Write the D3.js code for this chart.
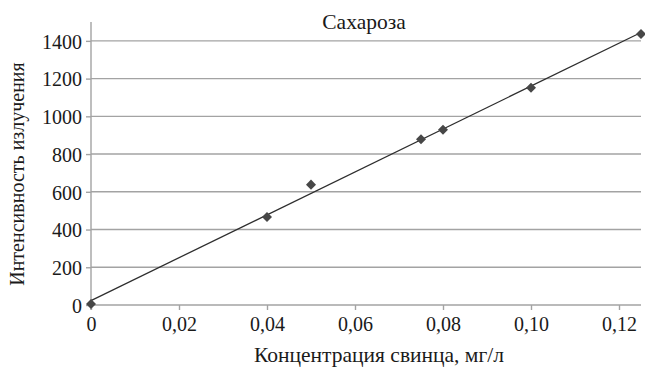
<!DOCTYPE html>
<html lang="ru">
<head>
<meta charset="UTF-8">
<title>Сахароза</title>
<script src="https://d3js.org/d3.v7.min.js"></script>
<style>
  body { margin: 0; background: #fff; }
  svg { display: block; }
</style>
</head>
<body>
<svg id="chart" width="645" height="367"></svg>
<script>
// data
const concentration = [0, 0.04, 0.05, 0.075, 0.08, 0.10, 0.125];
const intensity = [5, 467, 638, 878, 929, 1152, 1437];
const xTicks = [0, 0.02, 0.04, 0.06, 0.08, 0.10, 0.12];
const xTickLabels = ["0", "0,02", "0,04", "0,06", "0,08", "0,10", "0,12"];
const yTicks = [0, 200, 400, 600, 800, 1000, 1200, 1400];

const FONT = "Liberation Serif, DejaVu Serif, Tinos, serif";
const svg = d3.select("#chart");
const plotLeft = 91, plotRight = 641, plotTop = 22, plotBottom = 305;

const x = d3.scaleLinear().domain([0, 0.125]).range([plotLeft, plotRight]);
const y = d3.scaleLinear().domain([0, 1500]).range([plotBottom, plotTop]);

// gridlines
svg.append("g")
  .selectAll("line")
  .data(yTicks.slice(1))
  .enter().append("line")
  .attr("x1", plotLeft).attr("x2", plotRight)
  .attr("y1", d => y(d)).attr("y2", d => y(d))
  .attr("stroke", "#a3a3a3").attr("stroke-width", 1.4);

// y axis
const yAxis = svg.append("g")
  .attr("transform", `translate(${plotLeft},0)`)
  .call(d3.axisLeft(y).tickValues(yTicks).tickSize(5).tickPadding(4).tickFormat(d3.format("d")));
yAxis.attr("font-family", FONT).attr("font-size", 20);
yAxis.select(".domain").remove();
yAxis.append("line")
  .attr("x1", 0).attr("x2", 0).attr("y1", plotTop).attr("y2", plotBottom + 5)
  .attr("stroke", "#a3a3a3").attr("stroke-width", 1.4);
yAxis.selectAll(".tick line").attr("stroke", "#a3a3a3").attr("stroke-width", 1.4);
yAxis.selectAll(".tick text").attr("dy", "0.36em").attr("fill", "#1a1a1a");

// x axis
const xAxis = svg.append("g")
  .attr("transform", `translate(0,${plotBottom})`)
  .call(d3.axisBottom(x).tickValues(xTicks).tickSize(5).tickPadding(7)
    .tickFormat((d, i) => xTickLabels[i]));
xAxis.attr("font-family", FONT).attr("font-size", 20);
xAxis.select(".domain").remove();
xAxis.append("line")
  .attr("x1", plotLeft).attr("x2", plotRight).attr("y1", 0).attr("y2", 0)
  .attr("stroke", "#a3a3a3").attr("stroke-width", 1.4);
xAxis.selectAll(".tick line").attr("stroke", "#a3a3a3").attr("stroke-width", 1.4);
xAxis.selectAll(".tick text").attr("fill", "#1a1a1a");

// linear trend (least squares)
const pts = concentration.map((c, i) => ({ c, v: intensity[i] }));
const mx = d3.mean(pts, d => d.c), my = d3.mean(pts, d => d.v);
const slope = d3.sum(pts, d => (d.c - mx) * (d.v - my)) / d3.sum(pts, d => (d.c - mx) ** 2);
const icept = my - slope * mx;
const trend = [0, 0.125].map(c => ({ c, v: icept + slope * c }));
svg.append("path")
  .datum(trend)
  .attr("d", d3.line().x(d => x(d.c)).y(d => y(d.v)))
  .attr("fill", "none").attr("stroke", "#2e2e2e").attr("stroke-width", 1.3);

// markers
svg.append("g")
  .selectAll("path")
  .data(pts)
  .enter().append("path")
  .attr("d", d3.symbol().type(d3.symbolDiamond2).size(64))
  .attr("transform", d => `translate(${x(d.c)},${y(d.v)})`)
  .attr("fill", "#474747");

// title and axis labels
const labels = svg.append("g").attr("font-family", FONT).attr("fill", "#1a1a1a");
labels.append("text")
  .attr("x", 364).attr("y", 29)
  .attr("text-anchor", "middle").attr("font-size", 21.5)
  .text("Сахароза");

labels.append("text")
  .attr("x", 379).attr("y", 362)
  .attr("text-anchor", "middle").attr("font-size", 21.5)
  .text("Концентрация свинца, мг/л");

labels.append("text")
  .attr("transform", "translate(24,174) rotate(-90)")
  .attr("text-anchor", "middle").attr("font-size", 20)
  .text("Интенсивность излучения");
</script>
</body>
</html>
